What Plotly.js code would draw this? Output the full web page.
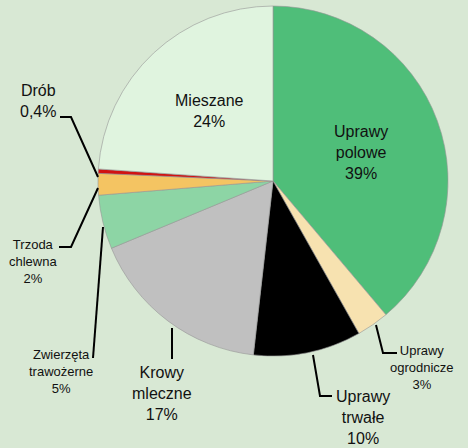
<!DOCTYPE html>
<html>
<head>
<meta charset="utf-8">
<script src="https://cdn.plot.ly/plotly-3.0.1.min.js"></script>
<style>html,body{margin:0;padding:0;background:#d8e8d4;}#chart{width:468px;height:448px;}</style>
</head>
<body>
<div id="chart"></div>
<script>
// Data (clockwise from 12 o'clock)
const labels = ["Uprawy polowe", "Uprawy ogrodnicze", "Uprawy trwałe", "Krowy mleczne", "Zwierzęta trawożerne", "Trzoda chlewna", "Drób", "Mieszane"];
const labelLines = [["Uprawy", "polowe"], ["Uprawy", "ogrodnicze"], ["Uprawy", "trwałe"], ["Krowy", "mleczne"], ["Zwierzęta", "trawożerne"], ["Trzoda", "chlewna"], ["Drób"], ["Mieszane"]];
const values = [39, 3, 10, 17, 5, 2, 0.4, 24];

// Styles / layout (not data)
const colors = ["#4fbe79", "#f7e2b0", "#000000", "#c0c0c0", "#8dd5a5", "#f4c462", "#d11212", "#e0f4df"];
const W = 468, H = 448;
const labelPos = [ // label centre in px, font size
  [361, 152, 16], [422, 367, 13], [363, 417, 16], [162, 393, 16],
  [61, 371, 13], [33, 261, 13], [38, 101, 16], [209, 111, 16]
];
const leaders = [ // px polylines
  null,
  [[376, 325], [383, 353], [397, 353]],
  [[313, 355], [320, 396], [332, 396]],
  [[172, 328], [172, 359]],
  [[103, 227], [93, 358]],
  [[98, 188], [71, 247], [59, 247]],
  [[98, 177], [71, 117], [60, 117]],
  null
];

function fmtPct(v) {
  return (v < 1 ? v.toFixed(1).replace('.', ',') : Math.round(v).toString()) + '%';
}
const px = x => x / W, py = y => 1 - y / H;

const annotations = labels.map((l, i) => ({
  text: labelLines[i].concat([fmtPct(values[i])]).join('<br>'),
  x: px(labelPos[i][0]), y: py(labelPos[i][1]), xref: 'paper', yref: 'paper',
  xanchor: 'center', yanchor: 'middle', showarrow: false, align: 'center',
  font: {family: 'Liberation Sans Narrow, Arial Narrow, Liberation Sans, Arial', size: labelPos[i][2], color: '#111'}
}));

const shapes = leaders.filter(Boolean).map(pts => ({
  type: 'path', xref: 'paper', yref: 'paper',
  path: pts.map((p, j) => (j ? 'L' : 'M') + px(p[0]) + ',' + py(p[1])).join(' '),
  line: {color: '#000', width: 2}
}));

const trace = {
  type: 'pie', labels: labels, values: values, sort: false, direction: 'clockwise', rotation: 0,
  marker: {colors: colors, line: {color: 'rgba(150,150,150,0.6)', width: 1}},
  textinfo: 'none', hoverinfo: 'label+percent', showlegend: false,
  domain: {x: [98 / W, 448 / W], y: [1 - 356 / H, 1 - 6 / H]}
};

Plotly.newPlot('chart', [trace], {
  width: W, height: H, margin: {l: 0, r: 0, t: 0, b: 0},
  paper_bgcolor: '#d8e8d4', plot_bgcolor: '#d8e8d4',
  showlegend: false, annotations: annotations, shapes: shapes
}, {displayModeBar: false, staticPlot: true});
</script>
</body>
</html>
